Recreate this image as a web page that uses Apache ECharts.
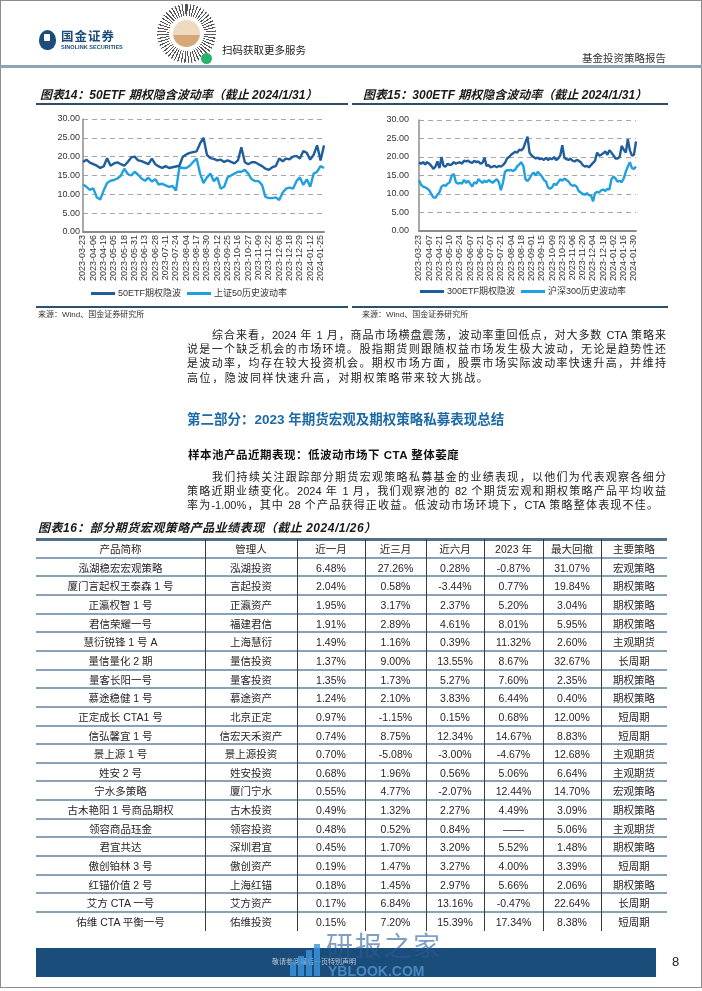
<!DOCTYPE html>
<html>
<head>
<meta charset="utf-8">
<script src="https://cdn.jsdelivr.net/npm/echarts@6/dist/echarts.min.js"></script>
<style>
html,body{margin:0;padding:0;background:#fff;}
#page{position:relative;width:702px;height:991px;overflow:hidden;background:#fff;
  font-family:"Liberation Sans","Noto Sans CJK SC",sans-serif;color:#222;}
#chart{position:absolute;left:0;top:0;width:702px;height:991px;z-index:1;}
.a{position:absolute;white-space:nowrap;z-index:2;}
.ttl{font-size:12px;font-weight:bold;font-style:italic;line-height:14px;height:14px;color:#1a1a1a;}
.src{font-size:8px;line-height:12px;height:12px;color:#333;}
.pl{position:absolute;z-index:2;font-size:11px;line-height:14px;height:14px;color:#222;
  text-align:justify;text-align-last:justify;white-space:normal;}
.hl{position:absolute;z-index:2;}
.cell{position:absolute;z-index:2;text-align:center;font-size:10.5px;color:#262626;white-space:nowrap;}
</style>
</head>
<body>
<div id="page">
  <div id="chart"></div>
</div>
<script>
// ---------------- Chart 14: 50ETF ----------------
const dates50 = ["2023-03-23","2023-03-28","2023-03-31","2023-04-06","2023-04-11","2023-04-14","2023-04-19","2023-04-24","2023-04-27","2023-05-05","2023-05-10","2023-05-15","2023-05-18","2023-05-23","2023-05-26","2023-05-31","2023-06-05","2023-06-08","2023-06-13","2023-06-16","2023-06-21","2023-06-28","2023-07-03","2023-07-06","2023-07-11","2023-07-14","2023-07-19","2023-07-24","2023-07-27","2023-08-01","2023-08-04","2023-08-09","2023-08-14","2023-08-17","2023-08-22","2023-08-25","2023-08-30","2023-09-04","2023-09-07","2023-09-12","2023-09-15","2023-09-20","2023-09-25","2023-09-28","2023-10-11","2023-10-16","2023-10-19","2023-10-24","2023-10-27","2023-11-01","2023-11-06","2023-11-09","2023-11-14","2023-11-17","2023-11-22","2023-11-27","2023-11-30","2023-12-05","2023-12-08","2023-12-13","2023-12-18","2023-12-21","2023-12-26","2023-12-29","2024-01-04","2024-01-09","2024-01-12","2024-01-17","2024-01-22","2024-01-25","2024-01-31"];
const iv50 = [18.6,19.2,18.4,18.0,17.6,17.0,17.4,19.6,17.6,18.2,
  18.5,18.0,17.6,18.6,19.8,20.0,19.0,18.8,18.4,18.0,
  19.5,18.0,17.4,17.0,17.5,17.0,17.2,17.4,17.6,20.0,
  20.6,21.0,21.2,21.4,23.5,25.0,20.5,19.6,19.4,19.0,
  19.2,18.6,19.0,18.6,18.2,19.0,22.5,18.5,18.0,18.5,
  18.5,18.0,17.5,16.8,16.5,17.2,17.5,19.5,18.8,19.5,
  19.3,20.0,20.2,19.5,21.5,21.0,19.2,20.5,23.0,19.0,23.0];
const hv50 = [12.6,12.0,11.2,11.6,9.2,8.6,11.0,13.0,13.6,13.8,
  14.2,15.0,16.8,15.4,15.0,16.0,15.2,14.2,13.6,14.4,
  13.4,14.0,12.6,12.8,12.4,12.0,12.2,11.0,17.2,17.0,
  17.0,17.6,18.6,19.5,15.5,13.0,14.5,15.5,13.5,14.5,
  11.5,12.0,14.5,15.0,15.5,16.0,16.0,16.5,15.5,14.0,
  13.5,13.5,12.5,9.3,9.0,9.0,9.2,8.5,10.5,11.5,
  11.8,11.5,13.5,14.5,12.5,14.0,12.0,15.5,16.0,17.5,17.0];

// ---------------- Chart 15: 300ETF ----------------
const dates300 = ["2023-03-23","2023-03-27","2023-03-29","2023-03-31","2023-04-04","2023-04-07","2023-04-11","2023-04-13","2023-04-17","2023-04-19","2023-04-21","2023-04-25","2023-04-27","2023-05-04","2023-05-08","2023-05-10","2023-05-12","2023-05-16","2023-05-18","2023-05-22","2023-05-24","2023-05-26","2023-05-30","2023-06-01","2023-06-05","2023-06-07","2023-06-09","2023-06-13","2023-06-15","2023-06-19","2023-06-21","2023-06-27","2023-06-29","2023-07-03","2023-07-05","2023-07-07","2023-07-11","2023-07-13","2023-07-17","2023-07-19","2023-07-21","2023-07-25","2023-07-27","2023-07-31","2023-08-02","2023-08-04","2023-08-08","2023-08-10","2023-08-14","2023-08-16","2023-08-18","2023-08-22","2023-08-24","2023-08-28","2023-08-30","2023-09-01","2023-09-05","2023-09-07","2023-09-11","2023-09-13","2023-09-15","2023-09-19","2023-09-21","2023-09-25","2023-09-27","2023-10-09","2023-10-11","2023-10-13","2023-10-17","2023-10-19","2023-10-23","2023-10-25","2023-10-27","2023-10-31","2023-11-02","2023-11-06","2023-11-08","2023-11-10","2023-11-14","2023-11-16","2023-11-20","2023-11-22","2023-11-24","2023-11-28","2023-11-30","2023-12-04","2023-12-06","2023-12-08","2023-12-12","2023-12-14","2023-12-18","2023-12-20","2023-12-22","2023-12-26","2023-12-28","2024-01-02","2024-01-04","2024-01-08","2024-01-10","2024-01-12","2024-01-16","2024-01-18","2024-01-22","2024-01-24","2024-01-26","2024-01-30","2024-01-31"];
const iv300 = [18.6,18.2,18.6,18.0,18.6,18.2,17.6,16.8,17.4,18.8,
  17.0,20.0,17.6,17.4,18.2,17.8,18.0,18.6,18.2,18.4,
  18.6,18.2,19.0,18.8,19.0,18.6,18.4,19.0,18.6,18.8,
  18.2,18.4,19.8,17.6,17.8,17.2,17.4,17.6,17.2,17.6,
  17.4,17.8,18.4,19.6,20.0,20.6,21.0,21.4,21.2,22.0,
  21.8,22.4,24.0,25.5,21.2,20.4,20.0,19.6,19.8,19.4,
  19.6,19.2,19.8,19.2,19.6,19.4,20.0,19.2,19.6,20.4,
  23.2,19.8,19.4,19.2,19.6,19.0,18.8,19.2,19.0,18.6,
  17.8,17.4,17.6,17.2,17.8,18.4,19.0,21.2,20.4,20.6,
  21.0,21.5,20.6,21.8,21.2,20.4,19.6,19.6,20.0,23.0,
  22.0,21.2,24.8,21.8,20.4,20.6,24.2];
const hv300 = [13.7,12.5,12.0,11.8,11.5,11.0,10.0,9.1,9.0,9.8,
  10.5,12.0,12.4,12.2,12.8,13.2,15.0,15.4,13.2,12.8,
  13.0,12.8,13.8,13.0,13.6,12.8,12.0,13.2,12.8,14.0,
  13.5,13.0,13.6,13.2,13.8,13.4,13.0,13.6,14.0,13.2,
  11.0,13.0,16.0,16.4,16.4,16.5,16.2,16.6,17.5,18.0,
  18.6,17.5,14.0,13.5,14.2,15.2,15.8,15.0,16.0,15.4,
  14.8,13.8,13.4,11.8,11.4,11.8,12.8,12.4,13.2,14.0,
  13.6,14.2,13.8,13.4,12.6,12.2,12.4,12.0,10.8,10.4,
  10.0,9.8,10.2,9.7,9.6,8.0,10.2,10.6,10.4,11.0,
  11.2,10.8,11.4,11.2,14.0,14.7,14.2,13.3,13.6,13.2,
  14.2,16.0,17.4,18.6,17.0,16.8,17.4];

const seriesNames50 = ["50ETF期权隐波","上证50历史波动率"];
const seriesNames300 = ["300ETF期权隐波","沪深300历史波动率"];
const yTicks = {min:0, max:30, interval:5};

// ---------------- Table 16 ----------------
const tableHeader = ["产品简称","管理人","近一月","近三月","近六月","2023 年","最大回撤","主要策略"];
const products = ["泓湖稳宏宏观策略","厦门言起权王泰森 1 号","正瀛权智 1 号","君信荣耀一号","慧衍锐锋 1 号 A","量信量化 2 期","量客长阳一号","慕途稳健 1 号","正定成长 CTA1 号","信弘馨宜 1 号","景上源 1 号","姓安 2 号","宁水多策略","古木艳阳 1 号商品期权","领容商品珏金","君宜共达","傲创铂林 3 号","红锚价值 2 号","艾方 CTA 一号","佑维 CTA 平衡一号"];
const managers = ["泓湖投资","言起投资","正瀛资产","福建君信","上海慧衍","量信投资","量客投资","慕途资产","北京正定","信宏天禾资产","景上源投资","姓安投资","厦门宁水","古木投资","领容投资","深圳君宜","傲创资产","上海红锚","艾方资产","佑维投资"];
const ret1m = [6.48,2.04,1.95,1.91,1.49,1.37,1.35,1.24,0.97,0.74,0.70,0.68,0.55,0.49,0.48,0.45,0.19,0.18,0.17,0.15];
const ret3m = [27.26,0.58,3.17,2.89,1.16,9.00,1.73,2.10,-1.15,8.75,-5.08,1.96,4.77,1.32,0.52,1.70,1.47,1.45,6.84,7.20];
const ret6m = [0.28,-3.44,2.37,4.61,0.39,13.55,5.27,3.83,0.15,12.34,-3.00,0.56,-2.07,2.27,0.84,3.20,3.27,2.97,13.16,15.39];
const ret2023 = [-0.87,0.77,5.20,8.01,11.32,8.67,7.60,6.44,0.68,14.67,-4.67,5.06,12.44,4.49,null,5.52,4.00,5.66,-0.47,17.34];
const maxDrawdown = [31.07,19.84,3.04,5.95,2.60,32.67,2.35,0.40,12.00,8.83,12.68,6.64,14.70,3.09,5.06,1.48,3.39,2.06,22.64,8.38];
const strategies = ["宏观策略","期权策略","期权策略","期权策略","主观期货","长周期","期权策略","期权策略","短周期","短周期","主观期货","主观期货","宏观策略","期权策略","主观期货","期权策略","短周期","期权策略","长周期","短周期"];

// ---------------- Text ----------------
const para1 = ["综合来看，2024 年 1 月，商品市场横盘震荡，波动率重回低点，对大多数 CTA 策略来",
  "说是一个缺乏机会的市场环境。股指期货则跟随权益市场发生极大波动，无论是趋势性还",
  "是波动率，均存在较大投资机会。期权市场方面，股票市场实际波动率快速升高，并维持",
  "高位，隐波同样快速升高，对期权策略带来较大挑战。"];
const para2 = ["我们持续关注跟踪部分期货宏观策略私募基金的业绩表现，以他们为代表观察各细分",
  "策略近期业绩变化。2024 年 1 月，我们观察池的 82 个期货宏观和期权策略产品平均收益",
  "率为-1.00%，其中 28 个产品获得正收益。低波动市场环境下，CTA 策略整体表现不佳。"];

// ================= Build page =================
const page = document.getElementById('page');
function add(html){ page.insertAdjacentHTML('beforeend', html); }

// frame & header
add('<div class="hl" style="left:0;top:0;width:700px;height:986px;border:1px solid #8c8c8c;"></div>');
add('<div class="hl" style="left:39px;top:30px;width:17px;height:20px;background:#1d4c7b;border-radius:50% 50% 45% 45%;"></div>');
add('<div class="hl" style="left:44px;top:34px;width:6px;height:7px;background:#fff;border-radius:1px;"></div>');
add('<div class="a" style="left:61px;top:30px;font-size:12.5px;line-height:14px;font-weight:bold;color:#1d4c7b;letter-spacing:1px;">国金证券</div>');
add('<div class="a" style="left:61px;top:44px;font-size:5.6px;line-height:7px;font-weight:bold;color:#1d4c7b;">SINOLINK SECURITIES</div>');
add('<div class="hl" style="left:157px;top:4px;width:59px;height:59px;border-radius:50%;background:repeating-conic-gradient(#555 0deg 2.5deg,#fff 2.5deg 7deg);"></div>');
add('<div class="hl" style="left:169px;top:16px;width:35px;height:35px;border-radius:50%;background:#fff;"></div>');
add('<div class="hl" style="left:173px;top:20px;width:27px;height:27px;border-radius:50%;background:linear-gradient(#eedabf 0 55%,#d6a877 55%);"></div>');
add('<div class="hl" style="left:201px;top:53px;width:11px;height:11px;border-radius:50%;background:#2bb36b;"></div>');
add('<div class="a" style="left:222px;top:43px;font-size:10.5px;line-height:14px;color:#222;">扫码获取更多服务</div>');
add('<div class="a" style="left:582px;top:51px;font-size:10.5px;line-height:14px;color:#333;">基金投资策略报告</div>');
add('<div class="hl" style="left:0;top:65px;width:702px;height:3px;background:#8fa3b3;"></div>');

// chart titles and rules
add('<div class="a ttl" style="left:40px;top:88px;">图表14：50ETF 期权隐含波动率（截止 2024/1/31）</div>');
add('<div class="a ttl" style="left:363px;top:88px;">图表15：300ETF 期权隐含波动率（截止 2024/1/31）</div>');
add('<div class="hl" style="left:36px;top:103px;width:312px;height:1.5px;background:#2e4f6b;"></div>');
add('<div class="hl" style="left:352px;top:103px;width:316px;height:1.5px;background:#2e4f6b;"></div>');
add('<div class="hl" style="left:36px;top:306px;width:312px;height:2px;background:#2e5070;"></div>');
add('<div class="hl" style="left:352px;top:306px;width:316px;height:2px;background:#2e5070;"></div>');
add('<div class="a src" style="left:38px;top:309px;">来源：Wind、国金证券研究所</div>');
add('<div class="a src" style="left:362px;top:309px;">来源：Wind、国金证券研究所</div>');

// paragraphs
const p1Tops=[328,342,356,371];
para1.forEach((t,i)=>{
  const left = i===0?212:187, w = 666-left;
  const last = i===para1.length-1;
  add('<div class="pl" style="left:'+left+'px;top:'+p1Tops[i]+'px;width:'+w+'px;'+(last?'text-align-last:left;letter-spacing:1.6px;':'')+'">'+t+'</div>');
});
add('<div class="a" style="left:187px;top:411px;font-size:13.5px;line-height:18px;font-weight:bold;color:#1c6aa8;">第二部分：2023 年期货宏观及期权策略私募表现总结</div>');
add('<div class="a" style="left:188px;top:448px;font-size:11.5px;line-height:14px;font-weight:bold;color:#111;letter-spacing:0.5px;">样本池产品近期表现：低波动市场下 CTA 整体萎靡</div>');
const p2Tops=[470,484,498];
para2.forEach((t,i)=>{
  const left = i===0?212:187;
  const w = (i===2?658:666)-left;
  add('<div class="pl" style="left:'+left+'px;top:'+p2Tops[i]+'px;width:'+w+'px;">'+t+'</div>');
});

// table
add('<div class="a ttl" style="left:38px;top:521px;letter-spacing:0.5px;">图表16：部分期货宏观策略产品业绩表现（截止 2024/1/26）</div>');
const colEdges=[36,205,297,365,426,484,543,601,667];
const tTop=539, rowH=18.65;
const pct=v=> v===null?'——':v.toFixed(2)+'%';
const rows=[tableHeader];
products.forEach((p,i)=>rows.push([p,managers[i],pct(ret1m[i]),pct(ret3m[i]),pct(ret6m[i]),pct(ret2023[i]),pct(maxDrawdown[i]),strategies[i]]));
add('<div class="hl" style="left:36px;top:'+(tTop-1)+'px;width:631px;height:2.5px;background:#52708a;"></div>');
for(let r=1;r<rows.length;r++){
  add('<div class="hl" style="left:36px;top:'+(tTop+r*rowH-1).toFixed(2)+'px;width:631px;height:2px;background:#8aa2b7;"></div>');
}
for(let c=1;c<colEdges.length-1;c++){
  add('<div class="hl" style="left:'+colEdges[c]+'px;top:'+tTop+'px;width:1px;height:'+(rows.length*rowH).toFixed(1)+'px;background:#3a3a3a;"></div>');
}
rows.forEach((row,r)=>{
  row.forEach((txt,c)=>{
    add('<div class="cell" style="left:'+colEdges[c]+'px;width:'+(colEdges[c+1]-colEdges[c])+'px;top:'+(tTop+r*rowH+1).toFixed(2)+'px;height:'+rowH+'px;line-height:'+rowH+'px;">'+txt+'</div>');
  });
});

// footer
add('<div class="hl" style="left:36px;top:948px;width:620px;height:29px;background:#1b4d7b;"></div>');
add('<div class="a" style="left:272px;top:957px;font-size:7px;line-height:10px;color:#b9c7d6;">敬请参阅最后一页特别声明</div>');
add('<div class="a" style="left:672px;top:954px;font-size:13px;line-height:16px;color:#222;">8</div>');
add('<div class="a" style="left:326px;top:932px;font-size:27px;line-height:30px;color:rgba(40,95,155,0.6);letter-spacing:2px;">研报之家</div>');
add('<div class="a" style="left:328px;top:963px;font-size:14px;line-height:16px;font-weight:bold;color:rgba(90,155,215,0.75);">YBLOOK.COM</div>');
[[290,962,14],[298,956,20],[306,950,26],[314,944,32]].forEach(b=>{
  add('<div class="hl" style="left:'+b[0]+'px;top:'+b[1]+'px;width:6px;height:'+b[2]+'px;background:rgba(60,150,225,0.8);"></div>');
});

// ================= ECharts =================
const chart = echarts.init(document.getElementById('chart'), null, {renderer:'canvas'});
const darkC='#1f5d9b', lightC='#21a0df';
const font='"Liberation Sans","Noto Sans CJK SC",sans-serif';
function xAxisCfg(grid,data,interval,margin){
  return {gridIndex:grid,type:'category',boundaryGap:false,data:data,
    axisLine:{lineStyle:{color:'#8c8c8c',width:2}},axisTick:{show:false},
    axisLabel:{rotate:90,interval:interval,fontSize:9,color:'#333',margin:margin,fontFamily:font},
    splitLine:{show:false}};
}
function yAxisCfg(grid,margin){
  return {gridIndex:grid,type:'value',min:yTicks.min,max:yTicks.max,interval:yTicks.interval,
    axisLine:{show:true,lineStyle:{color:'#8c8c8c',width:1.5}},axisTick:{show:false},
    axisLabel:{formatter:v=>v.toFixed(2),fontSize:9,color:'#333',margin:margin,fontFamily:font},
    splitLine:{show:true,lineStyle:{type:[5,4],color:'#a6a6a6',width:1}}};
}
function lineS(name,data,idx,color,z){
  return {name:name,type:'line',xAxisIndex:idx,yAxisIndex:idx,data:data,showSymbol:false,symbol:'none',
    lineStyle:{width:2.4,color:color},itemStyle:{color:color},z:z};
}
chart.setOption({
  animation:false,
  textStyle:{fontFamily:font},
  grid:[{left:83,top:119,width:241,height:113},{left:419,top:120,width:217,height:111}],
  xAxis:[xAxisCfg(0,dates50,2,3),xAxisCfg(1,dates300,4,4)],
  yAxis:[yAxisCfg(0,3),yAxisCfg(1,10)],
  legend:[
    {data:seriesNames50,left:86,top:284,itemWidth:24,itemHeight:3,icon:'rect',itemGap:6,
     textStyle:{fontSize:9,color:'#333',fontFamily:font,padding:[0,0,0,-2]}},
    {data:seriesNames300,left:415,top:282,itemWidth:24,itemHeight:3,icon:'rect',itemGap:6,
     textStyle:{fontSize:9,color:'#333',fontFamily:font,padding:[0,0,0,-2]}}
  ],
  series:[
    lineS(seriesNames50[0],iv50,0,darkC,3),
    lineS(seriesNames50[1],hv50,0,lightC,2),
    lineS(seriesNames300[0],iv300,1,darkC,3),
    lineS(seriesNames300[1],hv300,1,lightC,2)
  ]
});
</script>
</body>
</html>
